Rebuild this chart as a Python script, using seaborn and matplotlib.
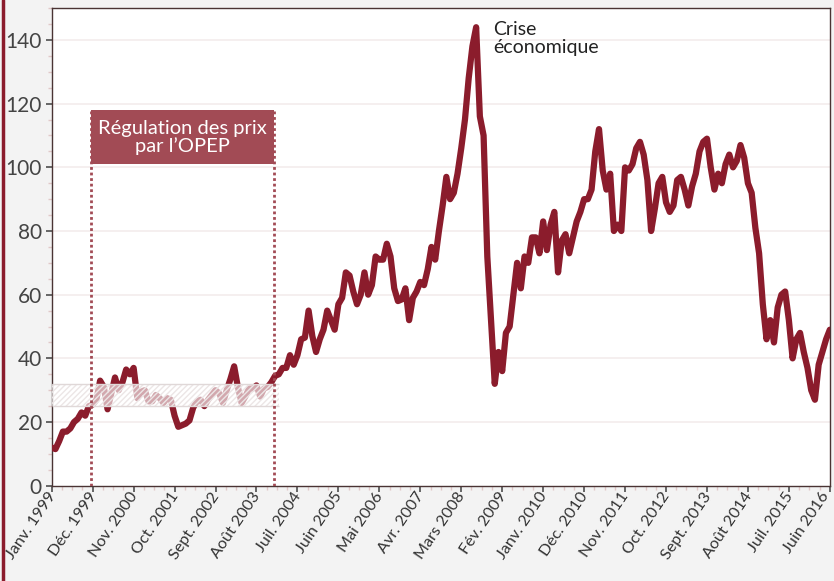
import matplotlib
matplotlib.use('Agg')
import matplotlib.pyplot as plt
import matplotlib.transforms as mtransforms
from matplotlib.patches import Rectangle
from matplotlib.lines import Line2D
from matplotlib.ticker import MultipleLocator
import seaborn as sns
import pandas as pd

# prix mensuels du baril, janv. 1999 -> juin 2016
prix_1999 = [12, 11.5, 14, 17, 17, 18, 20, 21, 23, 22, 25, 25.5]
prix_2000 = [27, 33, 31, 24, 29, 34, 30, 32.5, 36.5, 35, 37, 27.5]
prix_2001 = [29.5, 30, 26.5, 26.5, 28.5, 27.5, 26, 27.5, 27, 22, 18.5, 19]
prix_2002 = [19.5, 20.5, 24.5, 26.5, 27, 25, 27, 28.5, 30, 29, 26, 30]
prix_2003 = [33.5, 37.5, 31, 26, 28, 30.5, 30.5, 31.5, 28, 30.5, 31, 32.5]
prix_2004 = [34.5, 35, 37, 37, 41, 38, 41, 46, 46.5, 55, 47, 42]
prix_2005 = [46, 49, 55, 52, 49, 57, 59, 67, 66, 61, 57, 60]
prix_2006 = [67, 60, 63, 72, 71, 71, 76, 72, 62, 58, 58.5, 62]
prix_2007 = [52, 59, 61, 64, 63, 68, 75, 71, 80, 88, 97, 90]
prix_2008 = [92, 98, 106, 115, 128, 138, 144, 116, 110, 72, 52, 32]
prix_2009 = [42, 36, 48, 50, 60, 70, 62, 72, 70, 78, 78, 73]
prix_2010 = [83, 74, 82, 86, 67, 77, 79, 73, 78, 83, 86, 90]
prix_2011 = [90, 93, 105, 112, 99, 93, 98, 80, 82, 80, 100, 99]
prix_2012 = [101, 106, 108, 104, 96, 80, 87, 95, 97, 89, 86, 88]
prix_2013 = [96, 97, 93, 88, 94, 98, 105, 108, 109, 100, 93, 98]
prix_2014 = [95, 101, 104, 100, 102, 107, 103, 95, 92, 81, 73, 57]
prix_2015 = [46, 52, 45, 56, 60, 61, 52, 40, 46, 48, 42, 37]
prix_2016 = [30, 27, 38, 42, 46, 49]

etiquettes = ['Janv. 1999', 'Déc. 1999', 'Nov. 2000', 'Oct. 2001', 'Sept. 2002',
              'Août 2003', 'Juil. 2004', 'Juin 2005', 'Mai 2006', 'Avr. 2007',
              'Mars 2008', 'Fév. 2009', 'Janv. 2010', 'Déc. 2010', 'Nov. 2011',
              'Oct. 2012', 'Sept. 2013', 'Août 2014', 'Juil. 2015', 'Juin 2016']

prix = (prix_1999 + prix_2000 + prix_2001 + prix_2002 + prix_2003 + prix_2004
        + prix_2005 + prix_2006 + prix_2007 + prix_2008 + prix_2009 + prix_2010
        + prix_2011 + prix_2012 + prix_2013 + prix_2014 + prix_2015 + prix_2016)
df = pd.DataFrame({'mois': range(len(prix)), 'prix': prix})

rouge = '#8b1c2c'
rose = '#a24b55'

sns.set_theme(style='white')
plt.rcParams['font.family'] = ['Lato', 'DejaVu Sans']

fig = plt.figure(figsize=(8.34, 5.81), dpi=100, facecolor='#f3f3f3')
ax = fig.add_axes([0.062, 0.164, 0.933, 0.822])
ax.set_facecolor('white')

for y in range(20, 160, 20):
    ax.axhline(y, color='#f3ecec', lw=1.2, zorder=0)

sns.lineplot(data=df, x='mois', y='prix', color=rouge, linewidth=4.5, ax=ax, zorder=3)

# bande 25-32 $ (voile hachuré)
ax.add_patch(Rectangle((0, 25), 61, 7, facecolor='white', alpha=0.62, edgecolor='none', zorder=4))
ax.add_patch(Rectangle((0, 25), 61, 7, fill=False, hatch='//////', edgecolor='#ece6e6', lw=0, zorder=4))
ax.hlines([25, 32], 0, 61, color='#e0d8d8', lw=1, zorder=4)

# période de régulation OPEP
ax.vlines([10.5, 59.8], 0, 118, color=rose, lw=2, linestyles=(0, (1, 1)), zorder=5)
ax.add_patch(Rectangle((10.5, 101), 49.3, 17, facecolor=rose, edgecolor='none', zorder=5))
ax.text(35.15, 109.5, 'Régulation des prix\npar l’OPEP', color='white', fontsize=14.5,
        ha='center', va='center', linespacing=1.0, zorder=6)

ax.text(118.5, 146, 'Crise\néconomique', color='#222222', fontsize=14,
        ha='left', va='top', linespacing=1.05)

ax.set_xlim(0, 209)
ax.set_ylim(0, 150)
positions = list(range(0, 210, 11))
ax.set_xticks(positions)
ax.set_xticklabels([])
for i, (pos, lab) in enumerate(zip(positions, etiquettes)):
    dx = -4 if i == len(positions) - 1 else 1
    trans = mtransforms.offset_copy(ax.get_xaxis_transform(), fig=fig, x=dx, y=-8, units='dots')
    ax.text(pos, 0, lab, transform=trans, rotation=56, ha='right', va='center',
            rotation_mode='anchor', fontsize=11.6, color='#333333', clip_on=False)

ax.set_yticks(range(0, 160, 20))
ax.set_yticklabels([str(v) for v in range(0, 160, 20)], fontsize=15, color='#444444')
ax.yaxis.set_minor_locator(MultipleLocator(5))
ax.xaxis.set_minor_locator(MultipleLocator(2.75))
ax.tick_params(axis='both', which='major', length=4, color='#555555', pad=3, left=True, bottom=True)
ax.tick_params(axis='both', which='minor', length=3, color='#e0c8c8', left=True, bottom=True)
ax.set_xlabel('')
ax.set_ylabel('')

for s in ax.spines.values():
    s.set_color('#4a3434')
    s.set_linewidth(1)

fig.add_artist(Line2D([0.004, 0.004], [0, 1], color='#8b1c2c', lw=2.5))

fig.savefig('out.png', dpi=100, facecolor=fig.get_facecolor())
